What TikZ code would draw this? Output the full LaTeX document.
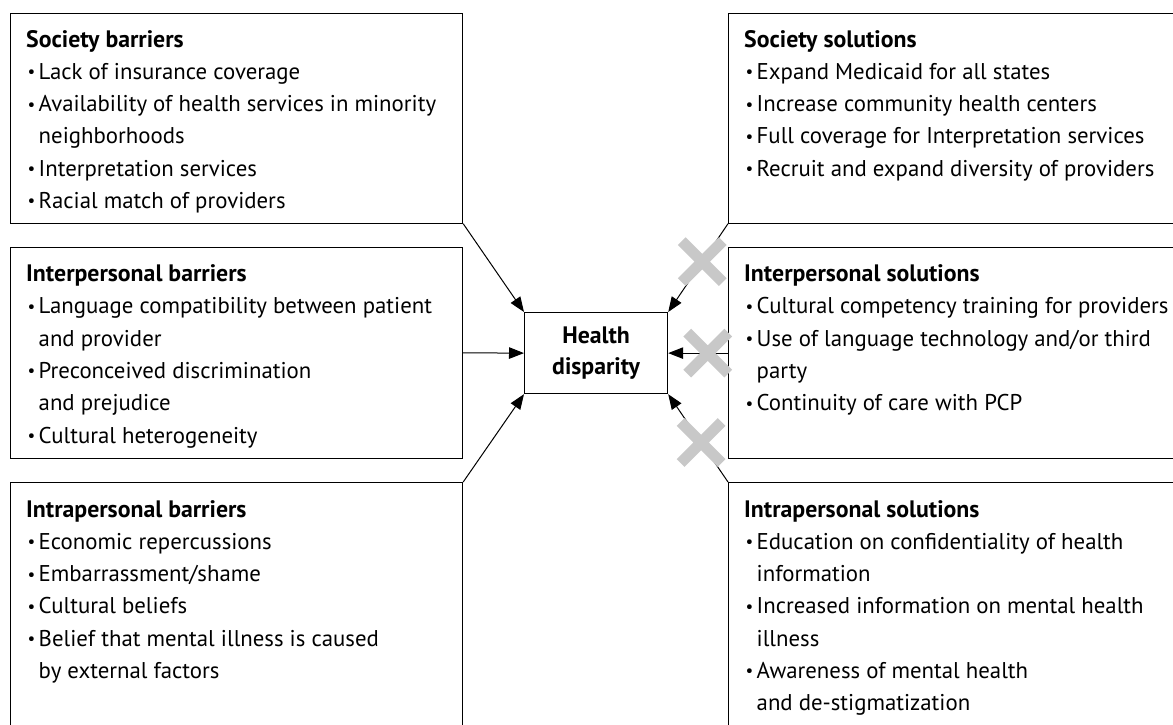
\documentclass[tikz,border=0pt]{standalone}
\usepackage{fontspec}
\setmainfont{PT Sans}
\usetikzlibrary{arrows.meta,shapes.misc}

\definecolor{xgray}{RGB}{200,200,200}

% one text block: heading and bullet lines stacked with a fixed line pitch
\newcommand\blocktext[1]{\vtop{\baselineskip=32.3pt\lineskiplimit=-100pt #1}}
\newcommand\hd[1]{\hbox{\fontsize{23.8}{32}\selectfont\bfseries #1}}
\newcommand\smalldot{\raisebox{1.6pt}{\scalebox{0.75}{•}}}
\newcommand\bu[1]{\hbox{\makebox[12.5pt][l]{\hspace{1.5pt}\smalldot}#1}}
\newcommand\ct[1]{\hbox{\hspace{12.5pt}#1}}

\begin{document}
\begin{tikzpicture}[x=1pt,y=-1pt,
  every node/.style={font=\fontsize{22.8}{32}\selectfont},
  panel/.style={draw=black,line width=1.2pt,inner sep=0pt,anchor=north west},
  blocklabel/.style={inner sep=0pt,anchor=base west},
  link/.style={line width=1pt,-{Triangle[length=15pt,width=11.5pt]}},
  xmark/.style={cross out,draw=xgray,line width=11pt,minimum size=30pt,inner sep=0pt,line cap=butt}
]
\useasboundingbox (0,0) rectangle (1173,724);

% left column: barriers
\node[panel,minimum width=452.5pt,minimum height=210pt] (sb) at (9.5,12.5) {};
\node[panel,minimum width=452.5pt,minimum height=210.5pt] (ib) at (9.5,247) {};
\node[panel,minimum width=452.5pt,minimum height=270pt] (pb) at (9.5,482) {};

% right column: solutions (run off the right edge)
\node[panel,minimum width=470pt,minimum height=210pt] (ss) at (728,12.5) {};
\node[panel,minimum width=470pt,minimum height=211pt] (is) at (728,247) {};
\node[panel,minimum width=470pt,minimum height=270pt] (ps) at (728,482) {};

% centre
\node[panel,minimum width=143pt,minimum height=81pt] (hd) at (524,312) {};
\node[inner sep=0pt,align=center,font=\fontsize{23.8}{31}\selectfont\bfseries] (hdt) at (hd.center) {Health\\disparity};

% texts
\node[blocklabel] (sbt) at (26,47) {\blocktext{%
  \hd{Society barriers}
  \bu{Lack of insurance coverage}
  \bu{Availability of health services in minority}
  \ct{neighborhoods}
  \bu{Interpretation services}
  \bu{Racial match of providers}}};

\node[blocklabel] (ibt) at (26,281.5) {\blocktext{%
  \hd{Interpersonal barriers}
  \bu{Language compatibility between patient}
  \ct{and provider}
  \bu{Preconceived discrimination}
  \ct{and prejudice}
  \bu{Cultural heterogeneity}}};

\node[blocklabel] (pbt) at (26,517) {\blocktext{%
  \hd{Intrapersonal barriers}
  \bu{Economic repercussions}
  \bu{Embarrassment/shame}
  \bu{Cultural beliefs}
  \bu{Belief that mental illness is caused}
  \ct{by external factors}}};

\node[blocklabel] (sst) at (744,47) {\blocktext{%
  \hd{Society solutions}
  \bu{Expand Medicaid for all states}
  \bu{Increase community health centers}
  \bu{Full coverage for Interpretation services}
  \bu{Recruit and expand diversity of providers}}};

\node[blocklabel] (ist) at (744,281.5) {\blocktext{%
  \hd{Interpersonal solutions}
  \bu{Cultural competency training for providers}
  \bu{Use of language technology and/or third}
  \ct{party}
  \bu{Continuity of care with PCP}}};

\node[blocklabel] (pst) at (744,517) {\blocktext{%
  \hd{Intrapersonal solutions}
  \bu{Education on confidentiality of health}
  \ct{information}
  \bu{Increased information on mental health}
  \ct{illness}
  \bu{Awareness of mental health}
  \ct{and de-stigmatization}}};

% barriers feed the disparity
\draw[link] (sb.south east) -- (hd.north west);
\draw[link] (ib.east) -- (hd.west);
\draw[link] (pb.north east) -- (hd.south west);

% solutions, each crossed out
\draw[link] (ss.south west) -- node[xmark,pos=0.43] (x1) {} (hd.north east);
\draw[link] (is.west) -- node[xmark,pos=0.34] (x2) {} (hd.east);
\draw[link] (ps.north west) -- node[xmark,pos=0.45] (x3) {} (hd.south east);
\end{tikzpicture}
\end{document}
